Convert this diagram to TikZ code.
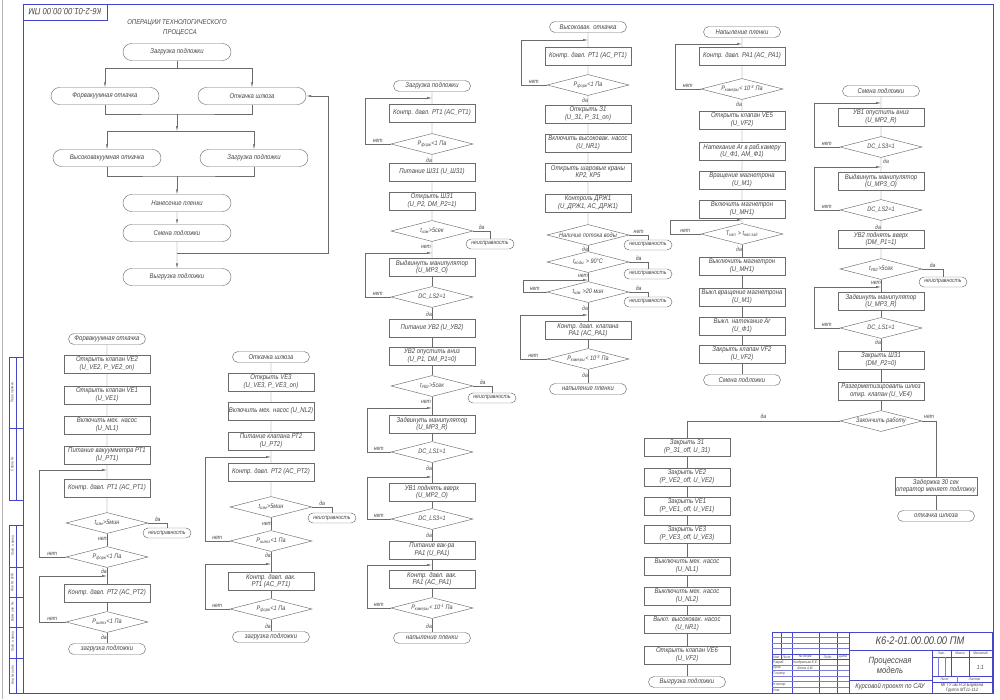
\documentclass[tikz,border=0pt]{standalone}
\usepackage{fontspec}
\setmainfont{Liberation Sans}[FakeStretch=0.85]
\usetikzlibrary{shapes.geometric}
\usetikzlibrary{shapes.misc}
\usetikzlibrary{arrows.meta}
\usetikzlibrary{positioning}

\definecolor{ink}{RGB}{70,70,70}
\definecolor{frm}{RGB}{70,70,200}

\tikzset{
  wire/.style={draw=ink!80, line width=0.45pt},
  blk/.style={draw=ink!80, line width=0.45pt, text=ink, font=\itshape\fontsize{7}{7.5}\selectfont, align=center, inner sep=1pt},
  proc/.style={blk, rectangle, minimum width=86pt, minimum height=18pt},
  term/.style={blk, rounded rectangle, minimum width=79pt, minimum height=11pt},
  bigterm/.style={blk, rounded rectangle, minimum width=110pt, minimum height=17pt},
  fault/.style={blk, rounded rectangle, minimum width=50pt, minimum height=10pt, font=\itshape\fontsize{6}{6.5}\selectfont},
  cond/.style={blk, diamond, aspect=4, minimum width=82pt, minimum height=21pt, inner sep=0pt, font=\itshape\fontsize{6.5}{7}\selectfont},
  lbl/.style={text=ink, font=\itshape\fontsize{6}{6.5}\selectfont, inner sep=0pt},
  rim/.style={draw=frm, line width=0.7pt},
  rimthin/.style={draw=frm!70, line width=0.35pt},
  stamp/.style={text=ink, font=\itshape\fontsize{3.6}{4}\selectfont, inner sep=0pt},
}

\begin{document}
\begin{tikzpicture}[x=1pt, y=-1pt, >={Latex[length=5pt,width=2.2pt]}]
\useasboundingbox (0,0) rectangle (1000,699);

% Sheet frame
\draw[draw=gray!60, line width=1pt] (2,0) -- (2,699);
\draw[rim] (23,4) rectangle (993,693);
\draw[rim] (23,4) rectangle (107,20);
\node[text=ink, font=\itshape\fontsize{9}{9}\selectfont, rotate=180] (code1) at (65,12) {К6-2-01.00.00.00 ПМ};

% Side stamps
\draw[rim] (9,357) rectangle (23,500);
\draw[rim] (16,357) -- (16,500);
\draw[rim] (9,428) -- (23,428);
\node[stamp, rotate=90] (sd1) at (12.5,392) {Перв. примен.};
\node[stamp, rotate=90] (sd2) at (12.5,464) {Справ. №};
\draw[rim] (9,525) rectangle (23,693);
\draw[rim] (16,525) -- (16,693);
\draw[rim] (9,567) -- (23,567);
\draw[rim] (9,597) -- (23,597);
\draw[rim] (9,627) -- (23,627);
\draw[rim] (9,658) -- (23,658);
\node[stamp, rotate=90] (sd3) at (12.5,546) {Подп. и дата};
\node[stamp, rotate=90] (sd4) at (12.5,582) {Инв. № дубл.};
\node[stamp, rotate=90] (sd5) at (12.5,612) {Взам. инв. №};
\node[stamp, rotate=90] (sd6) at (12.5,642) {Подп. и дата};
\node[stamp, rotate=90] (sd7) at (12.5,675) {Инв. № подл.};

% Operations overview
\node[lbl, font=\itshape\fontsize{7}{7}\selectfont] (ttl1) at (177,23) {ОПЕРАЦИИ ТЕХНОЛОГИЧЕСКОГО};
\node[lbl, font=\itshape\fontsize{7}{7}\selectfont] (ttl2) at (180,33) {ПРОЦЕССА};
\node[bigterm] (o1) at (177,52) {Загрузка подложки};
\node[bigterm] (o2) at (105,96) {Форвакуумная откачка};
\node[bigterm] (o3) at (252,96) {Откачка шлюза};
\node[bigterm] (o4) at (107,158) {Высоковакуумная откачка};
\node[bigterm] (o5) at (254,158) {Загрузка подложки};
\node[bigterm] (o6) at (177,203) {Нанесение пленки};
\node[bigterm] (o7) at (177,233) {Смена подложки};
\node[bigterm] (o8) at (177,277) {Выгрузка подложки};
\coordinate (j1) at (177,68);
\coordinate (j2) at (177,114);
\coordinate (j3) at (177,131);
\coordinate (j4) at (177,176);
\coordinate (j5) at (177,253);
\draw[wire] (o1.south) -- (j1);
\draw[wire, ->] (j1) -| (o2.north);
\draw[wire, ->] (j1) -| (o3.north);
\draw[wire] (o2.south) |- (j2) -| (o3.south);
\draw[wire, ->] (j2) -- (j3);
\draw[wire, ->] (j3) -| (o4.north);
\draw[wire, ->] (j3) -| (o5.north);
\draw[wire] (o4.south) |- (j4) -| (o5.south);
\draw[wire, ->] (j4) -- (o6.north);
\draw[wire, ->] (o6) -- (o7);
\draw[wire, ->] (o7) -- (o8);
\draw[wire, ->] (j5) -- (328,253) |- (o3.east);

% Forevacuum pumping
\node[term] (f0) at (107,339) {Форвакуумная откачка};
\node[proc] (f1) at (107,364) {Открыть клапан VE2\\(U\_VE2, P\_VE2\_on)};
\node[proc] (f2) at (107,395) {Открыть клапан VE1\\(U\_VE1)};
\node[proc] (f3) at (107,425) {Включить мех. насос\\(U\_NL1)};
\node[proc] (f4) at (107,455) {Питание вакуумметра РТ1\\(U\_PT1)};
\node[proc] (f5) at (107,488) {Контр. давл. РТ1 (AC\_PT1)};
\node[cond] (f6) at (107,523) {t\textsubscript{изм}>5мин};
\node[fault] (f7) at (167,533) {неисправность};
\node[cond] (f8) at (107,557) {P\textsubscript{форв}<1 Па};
\node[proc] (f9) at (107,593) {Контр. давл. РТ2 (AC\_PT2)};
\node[cond] (f10) at (107,622) {P\textsubscript{шлюз}<1 Па};
\node[term] (f11) at (107,649) {загрузка подложки};
\coordinate (fl1) at (107,470);
\coordinate (fl2) at (107,576);
\draw[wire] (f0) -- (f1) (f1) -- (f2) (f2) -- (f3) (f3) -- (f4) (f4) -- (f5) (f5) -- (f6);
\draw[wire] (f6) -- (f8) (f8) -- (f9) (f9) -- (f10) (f10) -- (f11);
\draw[wire] (f6.east) -| node[lbl, pos=0.25, above=1pt] (fy1) {да} (f7.north);
\draw[wire, ->] (f8.west) -- ++(-27,0) node[lbl, midway, above=1pt] (fn2) {нет} |- (fl1);
\draw[wire, ->] (f10.west) -- ++(-27,0) node[lbl, midway, above=1pt] (fn3) {нет} |- (fl2);
\node[lbl] (fn1) at (103,539) {нет};
\node[lbl] (fy2) at (104,571) {да};
\node[lbl] (fy3) at (104,637) {да};

% Lock chamber pumping
\node[term] (s0) at (271,357) {Откачка шлюза};
\node[proc] (s1) at (271,382) {Открыть VE3\\(U\_VE3, P\_VE3\_on)};
\node[proc] (s2) at (271,411) {Включить мех. насос (U\_NL2)};
\node[proc] (s3) at (271,441) {Питание клапана РТ2\\(U\_PT2)};
\node[proc] (s4) at (271,472) {Контр. давл. РТ2 (AC\_PT2)};
\node[cond] (s5) at (271,507) {t\textsubscript{изм}>5мин};
\node[fault] (s6) at (332,518) {неисправность};
\node[cond] (s7) at (271,541) {P\textsubscript{шлюз}<1 Па};
\node[proc] (s8) at (271,581) {Контр. давл. вак.\\РТ1 (AC\_PT1)};
\node[cond] (s9) at (271,609) {P\textsubscript{форв}<1 Па};
\node[term] (s10) at (271,637) {загрузка подложки};
\coordinate (sl1) at (271,457);
\coordinate (sl2) at (271,564);
\draw[wire] (s0) -- (s1) (s1) -- (s2) (s2) -- (s3) (s3) -- (s4) (s4) -- (s5);
\draw[wire] (s5) -- (s7) (s7) -- (s8) (s8) -- (s9) (s9) -- (s10);
\draw[wire] (s5.east) -| node[lbl, pos=0.25, above=1pt] (sy1) {да} (s6.north);
\draw[wire, ->] (s7.west) -- ++(-25,0) node[lbl, midway, above=1pt] (sn2) {нет} |- (sl1);
\draw[wire, ->] (s9.west) -- ++(-25,0) node[lbl, midway, above=1pt] (sn3) {нет} |- (sl2);
\node[lbl] (sn1) at (267,524) {нет};
\node[lbl] (sy2) at (268,555) {да};
\node[lbl] (sy3) at (268,626) {да};

% Substrate loading
\node[term] (z0) at (432,86) {Загрузка подложки};
\node[proc] (z1) at (432,113) {Контр. давл. РТ1 (AC\_PT1)};
\node[cond] (z2) at (432,144) {P\textsubscript{форв}<1 Па};
\node[proc] (z3) at (432,172) {Питание ШЗ1 (U\_ШЗ1)};
\node[proc] (z4) at (432,201) {Открыть ШЗ1\\(U\_P2, DM\_P2=1)};
\node[cond] (z5) at (432,231) {t\textsubscript{изм}>5сек};
\node[fault] (z6) at (490,244) {неисправность};
\node[proc] (z7) at (432,267) {Выдвинуть манипулятор\\(U\_MP3\_O)};
\node[cond] (z8) at (432,297) {DC\_LS2=1};
\node[proc] (z9) at (432,328) {Питание УВ2 (U\_УВ2)};
\node[proc] (z10) at (432,356) {УВ2 опустить вниз\\(U\_P1, DM\_P1=0)};
\node[cond] (z11) at (432,386) {t\textsubscript{УВ2}>5сек};
\node[fault] (z12) at (492,398) {неисправность};
\node[proc] (z13) at (432,424) {Задвинуть манипулятор\\(U\_MP3\_R)};
\node[cond] (z14) at (432,452) {DC\_LS1=1};
\node[proc] (z15) at (432,492) {УВ1 поднять вверх\\(U\_MP2\_O)};
\node[cond] (z16) at (432,519) {DC\_LS3=1};
\node[proc] (z17) at (432,550) {Питание вак-ра\\PA1 (U\_PA1)};
\node[proc] (z18) at (432,579) {Контр. давл. вак.\\PA1 (AC\_PA1)};
\node[cond] (z19) at (432,608) {P\textsubscript{камеры}< 10\textsuperscript{-1} Па};
\node[term] (z20) at (432,638) {напыление пленки};
\coordinate (zl1) at (432,98);
\coordinate (zl2) at (432,253);
\coordinate (zl3) at (432,408);
\coordinate (zl4) at (432,477);
\coordinate (zl5) at (432,565);
\draw[wire] (z0) -- (z1) (z1) -- (z2) (z2) -- (z3) (z3) -- (z4) (z4) -- (z5) (z5) -- (z7);
\draw[wire] (z7) -- (z8) (z8) -- (z9) (z9) -- (z10) (z10) -- (z11) (z11) -- (z13) (z13) -- (z14);
\draw[wire] (z14) -- (z15) (z15) -- (z16) (z16) -- (z17) (z17) -- (z18) (z18) -- (z19) (z19) -- (z20);
\draw[wire] (z5.east) -| node[lbl, pos=0.25, above=1pt] (zy2) {да} (z6.north);
\draw[wire] (z11.east) -| node[lbl, pos=0.25, above=1pt] (zy4) {да} (z12.north);
\draw[wire, ->] (z2.west) -- ++(-26,0) node[lbl, midway, above=1pt] (zn1) {нет} |- (zl1);
\draw[wire, ->] (z8.west) -- ++(-26,0) node[lbl, midway, above=1pt] (zn3) {нет} |- (zl2);
\draw[wire, ->] (z14.west) -- ++(-24,0) node[lbl, midway, above=1pt] (zn5) {нет} |- (zl3);
\draw[wire, ->] (z16.west) -- ++(-24,0) node[lbl, midway, above=1pt] (zn6) {нет} |- (zl4);
\draw[wire, ->] (z19.west) -- ++(-24,0) node[lbl, midway, above=1pt] (zn7) {нет} |- (zl5);
\node[lbl] (zy1) at (429,160) {да};
\node[lbl] (zn2) at (426,247) {нет};
\node[lbl] (zy3) at (429,314) {да};
\node[lbl] (zn4) at (426,402) {нет};
\node[lbl] (zy5) at (429,468) {да};
\node[lbl] (zy6) at (429,535) {да};
\node[lbl] (zy7) at (429,626) {да};

% High vacuum pumping
\node[term] (v0) at (588,27) {Высоковак. откачка};
\node[proc] (v1) at (588,56) {Контр. давл. РТ1 (AC\_PT1)};
\node[cond] (v2) at (588,85) {P\textsubscript{форв}<1 Па};
\node[proc] (v3) at (588,114) {Открыть З1\\(U\_З1, P\_З1\_on)};
\node[proc] (v4) at (588,143) {Включить высоковак. насос\\(U\_NR1)};
\node[proc] (v5) at (588,172) {Открыть шаровые краны\\КР2, КР5};
\node[proc] (v6) at (588,203) {Контроль ДРЖ1\\(U\_ДРЖ1, AC\_ДРЖ1)};
\node[cond] (v7) at (588,235) {Наличие потока воды};
\node[fault] (v8) at (648,245) {неисправность};
\node[cond] (v9) at (588,262) {t\textsubscript{воды} > 90°С};
\node[fault] (v10) at (648,274) {неисправность};
\node[cond] (v11) at (588,292) {t\textsubscript{изм} >20 мин};
\node[fault] (v12) at (648,302) {неисправность};
\node[proc] (v13) at (588,330) {Контр. давл. клапана\\PA1 (AC\_PA1)};
\node[cond] (v14) at (588,359) {P\textsubscript{камеры}< 10\textsuperscript{-3} Па};
\node[term] (v15) at (588,389) {напыление пленки};
\coordinate (vl1) at (588,40);
\coordinate (vl2) at (588,280);
\coordinate (vl3) at (588,315);
\draw[wire] (v0) -- (v1) (v1) -- (v2) (v2) -- (v3) (v3) -- (v4) (v4) -- (v5) (v5) -- (v6) (v6) -- (v7);
\draw[wire] (v7) -- (v9) (v9) -- (v11) (v11) -- (v13) (v13) -- (v14) (v14) -- (v15);
\draw[wire] (v7.east) -| node[lbl, pos=0.25, above=1pt] (vn2) {нет} (v8.north);
\draw[wire] (v9.east) -| node[lbl, pos=0.25, above=1pt] (vy3) {да} (v10.north);
\draw[wire] (v11.east) -| node[lbl, pos=0.25, above=1pt] (vy4) {да} (v12.north);
\draw[wire, ->] (v2.west) -- ++(-26,0) node[lbl, midway, above=1pt] (vn1) {нет} |- (vl1);
\draw[wire, ->] (v11.west) -- ++(-24,0) node[lbl, midway, above=1pt] (vn4) {нет} |- (vl2);
\draw[wire, ->] (v14.west) -- ++(-27,0) node[lbl, midway, above=1pt] (vn5) {нет} |- (vl3);
\node[lbl] (vy1) at (585,100) {да};
\node[lbl] (vy2) at (585,249) {да};
\node[lbl] (vn3) at (583,276) {нет};
\node[lbl] (vy5) at (585,308) {да};
\node[lbl] (vy6) at (585,375) {да};

% Film deposition
\node[term] (n0) at (742,32) {Напыление пленки};
\node[proc] (n1) at (742,56) {Контр. давл. PA1 (AC\_PA1)};
\node[cond] (n2) at (742,89) {P\textsubscript{камеры}< 10\textsuperscript{-3} Па};
\node[proc] (n3) at (742,120) {Открыть клапан VE5\\(U\_VF2)};
\node[proc] (n4) at (742,151) {Натекание Ar в раб.камеру\\(U\_Ф1, AM\_Ф1)};
\node[proc] (n5) at (742,180) {Вращение магнетрона\\(U\_M1)};
\node[proc] (n6) at (742,209) {Включить магнетрон\\(U\_MН1)};
\node[cond] (n7) at (742,234) {T\textsubscript{нап} > t\textsubscript{нап.зад}};
\node[proc] (n8) at (742,266) {Выключить магнетрон\\(U\_MН1)};
\node[proc] (n9) at (742,297) {Выкл.вращение магнетрона\\(U\_M1)};
\node[proc] (n10) at (742,326) {Выкл. натекание Ar\\(U\_Ф1)};
\node[proc] (n11) at (742,354) {Закрыть клапан VF2\\(U\_VF2)};
\node[term] (n12) at (742,380) {Смена подложки};
\coordinate (nl1) at (742,44);
\coordinate (nl2) at (742,220);
\draw[wire] (n0) -- (n1) (n1) -- (n2) (n2) -- (n3) (n3) -- (n4) (n4) -- (n5) (n5) -- (n6) (n6) -- (n7);
\draw[wire] (n7) -- (n8) (n8) -- (n9) (n9) -- (n10) (n10) -- (n11) (n11) -- (n12);
\draw[wire, ->] (n2.west) -- ++(-26,0) node[lbl, midway, above=1pt] (nn1) {нет} |- (nl1);
\draw[wire, ->] (n7.west) -- ++(-31,0) node[lbl, midway, above=1pt] (nn2) {нет} |- (nl2);
\node[lbl] (ny1) at (739,104) {да};
\node[lbl] (ny2) at (739,249) {да};

% Substrate change
\node[term] (c0) at (881,91) {Смена подложки};
\node[proc] (c1) at (881,117) {УВ1 опустить вниз\\(U\_MP2\_R)};
\node[cond] (c2) at (881,147) {DC\_LS3=1};
\node[proc] (c3) at (881,181) {Выдвинуть манипулятор\\(U\_MP3\_O)};
\node[cond] (c4) at (881,210) {DC\_LS2=1};
\node[proc] (c5) at (881,239) {УВ2 поднять вверх\\(DM\_P1=1)};
\node[cond] (c6) at (881,269) {t\textsubscript{УВ2}>5сек};
\node[fault] (c7) at (943,282) {неисправность};
\node[proc] (c8) at (881,301) {Задвинуть манипулятор\\(U\_MP3\_R)};
\node[cond] (c9) at (881,328) {DC\_LS1=1};
\node[proc] (c10) at (881,360) {Закрыть ШЗ1\\(DM\_P2=0)};
\node[proc] (c11) at (881,391) {Разгерметизировать шлюз\\откр. клапан (U\_VE4)};
\node[cond] (c12) at (881,421) {Закончить работу};
\node[proc, minimum width=76pt] (c13) at (936,486) {Задержка 30 сек\\оператор меняет подложку};
\node[term] (c14) at (936,516) {откачка шлюза};
\coordinate (cl1) at (881,103);
\coordinate (cl2) at (881,167);
\coordinate (cl3) at (881,287);
\draw[wire] (c0) -- (c1) (c1) -- (c2) (c2) -- (c3) (c3) -- (c4) (c4) -- (c5) (c5) -- (c6);
\draw[wire] (c6) -- (c8) (c8) -- (c9) (c9) -- (c10) (c10) -- (c11) (c11) -- (c12) (c13) -- (c14);
\draw[wire] (c6.east) -| node[lbl, pos=0.25, above=1pt] (cy3) {да} (c7.north);
\draw[wire] (c12.east) -| node[lbl, pos=0.25, above=2pt] (cn5) {нет} (c13.north);
\draw[wire, ->] (c2.west) -- ++(-26,0) node[lbl, midway, above=1pt] (cn1) {нет} |- (cl1);
\draw[wire, ->] (c4.west) -- ++(-26,0) node[lbl, midway, above=1pt] (cn2) {нет} |- (cl2);
\draw[wire, ->] (c9.west) -- ++(-26,0) node[lbl, midway, above=1pt] (cn4) {нет} |- (cl3);
\node[lbl] (cy1) at (886,161) {да};
\node[lbl] (cy2) at (878,227) {да};
\node[lbl] (cn3) at (876,283) {нет};
\node[lbl] (cy4) at (878,342) {да};

% Substrate unloading
\node[proc] (e1) at (687,447) {Закрыть З1\\(P\_З1\_off, U\_З1)};
\node[proc] (e2) at (687,477) {Закрыть VE2\\(P\_VE2\_off, U\_VE2)};
\node[proc] (e3) at (687,506) {Закрыть VE1\\(P\_VE1\_off, U\_VE1)};
\node[proc] (e4) at (687,534) {Закрыть VE3\\(P\_VE3\_off, U\_VE3)};
\node[proc] (e5) at (687,566) {Выключить мех. насос\\(U\_NL1)};
\node[proc] (e6) at (687,596) {Выключить мех. насос\\(U\_NL2)};
\node[proc] (e7) at (687,624) {Выкл. высоковак. насос\\(U\_NR1)};
\node[proc] (e8) at (687,655) {Открыть клапан VE6\\(U\_VF2)};
\node[term] (e9) at (687,682) {Выгрузка подложки};
\draw[wire] (c12.west) -| node[lbl, pos=0.25, above=2pt] (cy5) {да} (e1.north);
\draw[wire] (e1) -- (e2) (e2) -- (e3) (e3) -- (e4) (e4) -- (e5) (e5) -- (e6) (e6) -- (e7) (e7) -- (e8) (e8) -- (e9);

% Title block
\draw[rim] (772,632) rectangle (992,693);
\draw[rim] (849,632) -- (849,693);
\draw[rim] (849,650) -- (992,650);
\draw[rim] (849,680) -- (932,680);
\draw[rim] (932,650) -- (932,693);
\draw[rim] (932,657) -- (992,657);
\draw[rim] (932,676) -- (992,676);
\draw[rim] (932,682) -- (992,682);
\draw[rim] (951,650) -- (951,676);
\draw[rim] (969,650) -- (969,676);
\draw[rimthin] (938,657) -- (938,676);
\draw[rimthin] (945,657) -- (945,676);
\draw[rimthin] (957,676) -- (957,682);
\draw[rim] (781,632) -- (781,659.5);
\draw[rim] (792,632) -- (792,693);
\draw[rim] (819,632) -- (819,693);
\draw[rim] (837,632) -- (837,693);
\draw[rimthin] (772,637.5) -- (849,637.5);
\draw[rimthin] (772,643) -- (849,643);
\draw[rimthin] (772,648.5) -- (849,648.5);
\draw[rim] (772,654) -- (849,654);
\draw[rim] (772,659.5) -- (849,659.5);
\draw[rimthin] (772,665) -- (849,665);
\draw[rimthin] (772,670.5) -- (849,670.5);
\draw[rimthin] (772,676) -- (849,676);
\draw[rimthin] (772,681.5) -- (849,681.5);
\draw[rimthin] (772,687) -- (849,687);
\node[stamp] (tb1) at (776.5,656.8) {Изм.};
\node[stamp] (tb2) at (786.5,656.8) {Лист};
\node[stamp] (tb3) at (805.5,656.8) {№ докум.};
\node[stamp] (tb4) at (828,656.8) {Подп.};
\node[stamp] (tb5) at (843,656.8) {Дата};
\node[stamp, anchor=west] (tb6) at (773,662.3) {Разраб.};
\node[stamp] (tb7) at (805.5,662.3) {Кондратьев Е.Е.};
\node[stamp, anchor=west] (tb8) at (773,667.8) {Пров.};
\node[stamp] (tb9) at (805.5,667.8) {Белов А.М.};
\node[stamp, anchor=west] (tb10) at (773,673.3) {Т.контр.};
\node[stamp, anchor=west] (tb11) at (773,684.3) {Н.контр.};
\node[stamp, anchor=west] (tb12) at (773,689.8) {Утв.};
\node[text=ink, font=\itshape\fontsize{11}{11}\selectfont] (tb13) at (920,641) {К6-2-01.00.00.00 ПМ};
\node[text=ink, font=\itshape\fontsize{9}{10}\selectfont, align=center] (tb14) at (890,665) {Процессная\\модель};
\node[text=ink, font=\itshape\fontsize{7}{7}\selectfont] (tb15) at (890,687) {Курсовой проект по САУ};
\node[stamp] (tb16) at (941.5,653.5) {Лит.};
\node[stamp] (tb17) at (960,653.5) {Масса};
\node[stamp] (tb18) at (980.5,653.5) {Масштаб};
\node[text=ink, font=\itshape\fontsize{6}{6}\selectfont] (tb19) at (980.5,667) {1:1};
\node[stamp] (tb20) at (944.5,679) {Лист};
\node[stamp] (tb21) at (974.5,679) {Листов};
\node[text=ink, font=\itshape\fontsize{4.8}{5.2}\selectfont, align=center] (tb22) at (962,687.5) {МГТУ им.Н.Э.Баумана\\Группа МТ11-112};

\end{tikzpicture}
\end{document}
